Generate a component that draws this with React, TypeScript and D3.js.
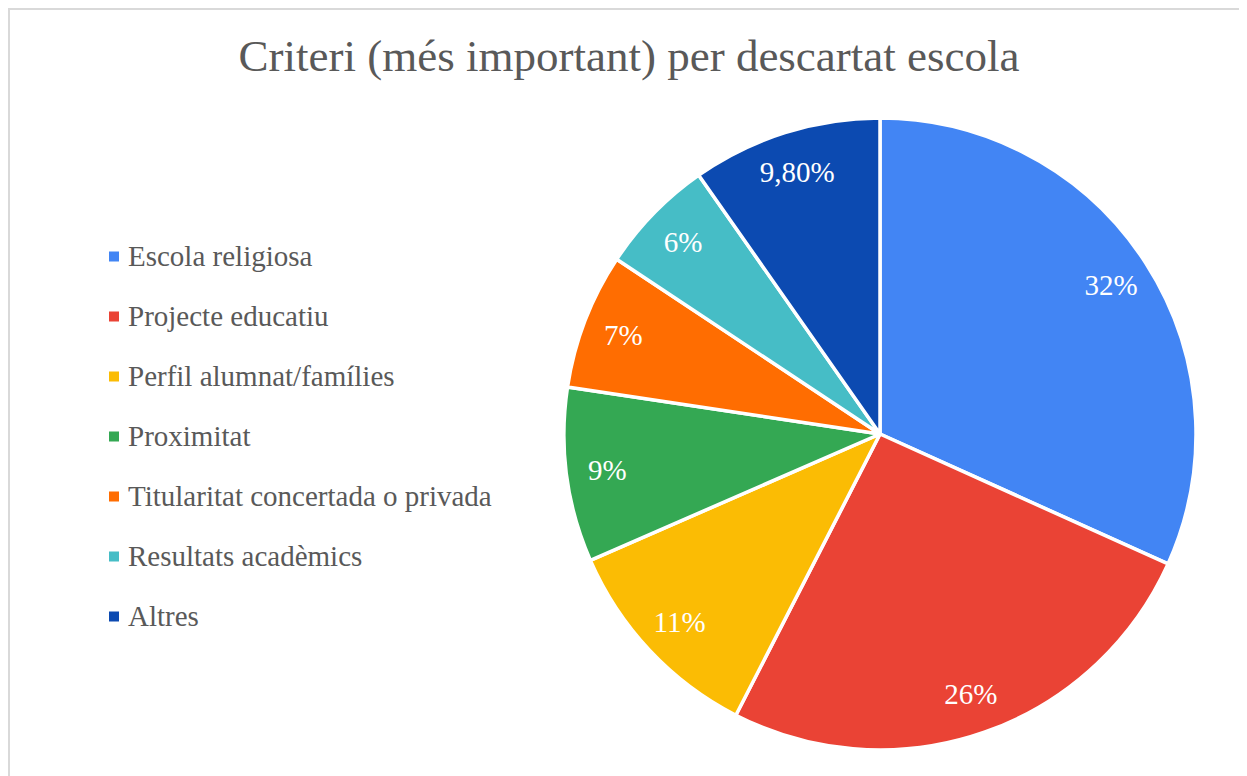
import React from "react";
import * as d3 from "d3";

const title = "Criteri (més important) per descartat escola";
const categories = [
  "Escola religiosa",
  "Projecte educatiu",
  "Perfil alumnat/famílies",
  "Proximitat",
  "Titularitat concertada o privada",
  "Resultats acadèmics",
  "Altres",
];
const values = [32, 26, 11, 9, 7, 6, 9.8];
const labels = ["32%", "26%", "11%", "9%", "7%", "6%", "9,80%"];
const colors = ["#4285F4", "#EA4335", "#FBBC04", "#34A853", "#FF6D01", "#46BDC6", "#0C4AB1"];

export default function App() {
  const W = 1239;
  const H = 768;
  const cx = 872;
  const cy = 426;
  const R = 316;
  const labelR = 275;
  const font = "'Liberation Serif', 'Times New Roman', serif";

  const pie = d3.pie<number>().sort(null).value((d) => d);
  const arcs = pie(values);
  const arc = d3.arc<d3.PieArcDatum<number>>().innerRadius(0).outerRadius(R);
  const labelArc = d3.arc<d3.PieArcDatum<number>>().innerRadius(labelR).outerRadius(labelR);

  const legendY = d3.scalePoint<string>().domain(categories).range([248, 608]);

  return (
    <svg width={W} height={H} style={{ display: "block", fontFamily: font }}>
      <rect x={0} y={0} width={W} height={H} fill="#fff" />
      <rect x={1} y={1} width={W + 10} height={H + 10} fill="none" stroke="#d9d9d9" strokeWidth={2} />
      <text x={621} y={63} textAnchor="middle" fontSize={45} fill="#595959">
        {title}
      </text>
      <g transform={`translate(${cx},${cy})`}>
        {arcs.map((a, i) => (
          <path key={i} d={arc(a) || ""} fill={colors[i]} stroke="#fff" strokeWidth={3.5} strokeLinejoin="round" />
        ))}
        {arcs.map((a, i) => {
          const [x, y] = labelArc.centroid(a);
          return (
            <text key={i} x={x} y={y} textAnchor="middle" dominantBaseline="central" fontSize={29} fill="#fff">
              {labels[i]}
            </text>
          );
        })}
      </g>
      <g>
        {categories.map((c, i) => {
          const y = legendY(c)!;
          return (
            <g key={c}>
              <rect x={101} y={y - 4.5} width={10} height={10} fill={colors[i]} />
              <text x={120} y={y} dominantBaseline="central" fontSize={29} fill="#595959">
                {c}
              </text>
            </g>
          );
        })}
      </g>
    </svg>
  );
}
